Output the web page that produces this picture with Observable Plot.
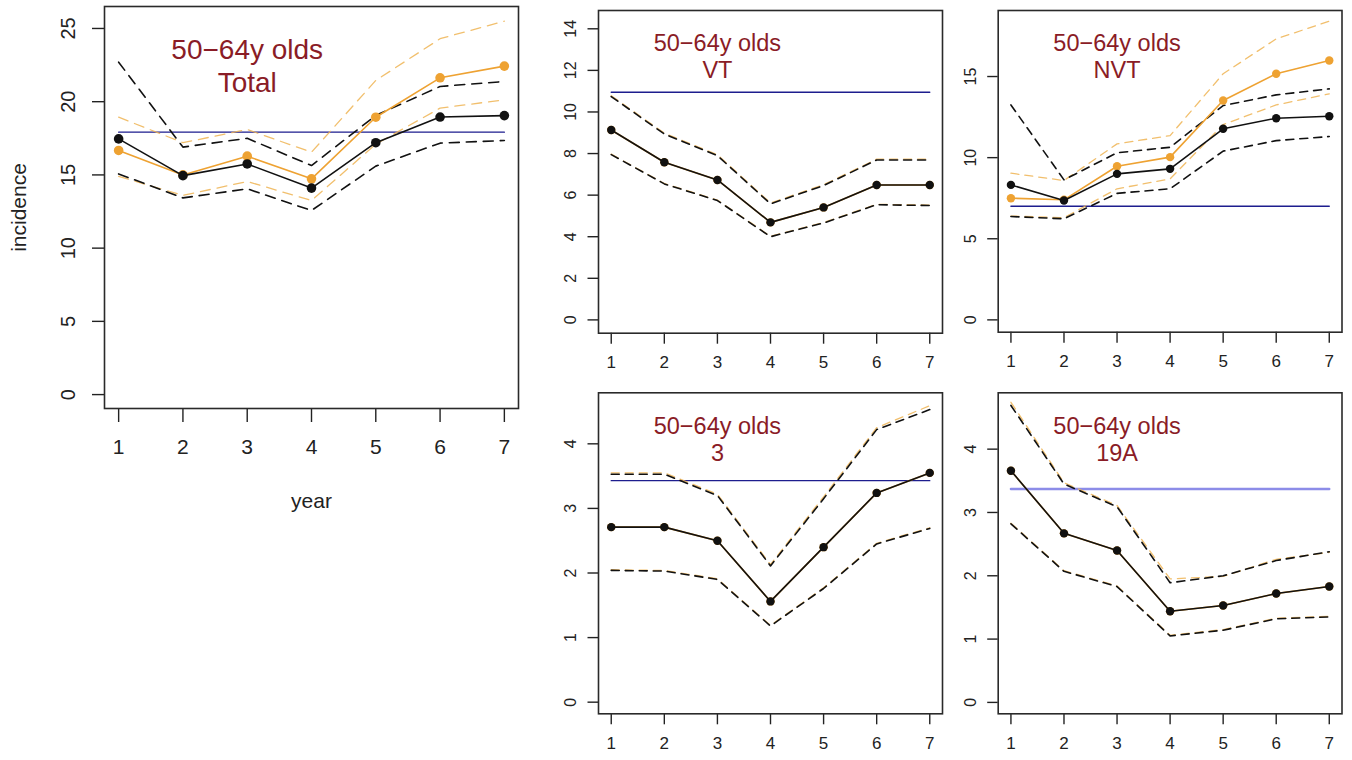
<!DOCTYPE html>
<html><head><meta charset="utf-8">
<script src="https://cdn.jsdelivr.net/npm/d3@7"></script>
<script src="https://cdn.jsdelivr.net/npm/@observablehq/plot@0.6"></script>
<style>
html,body{margin:0;padding:0;background:#fff;}
#wrap{position:relative;width:1352px;height:760px;overflow:hidden;font-family:"Liberation Sans",Arial,sans-serif;}
.panel{position:absolute;}
</style></head><body><div id="wrap"></div>
<script>
// ---------- data ----------
const years = [1, 2, 3, 4, 5, 6, 7];
const panelNames = ["Total", "VT", "NVT", "3", "19A"];
const titlePrefix = "50\u221264y olds";

const blackMid = {
  Total: [17.46, 14.95, 15.75, 14.1, 17.2, 18.95, 19.05],
  VT:    [9.13, 7.58, 6.73, 4.69, 5.41, 6.49, 6.49],
  NVT:   [8.32, 7.36, 9.0, 9.31, 11.78, 12.43, 12.55],
  "3":   [2.71, 2.71, 2.50, 1.56, 2.40, 3.24, 3.55],
  "19A": [3.66, 2.67, 2.40, 1.44, 1.53, 1.72, 1.83]
};
const blackLo = {
  Total: [15.07, 13.43, 14.05, 12.57, 15.6, 17.17, 17.35],
  VT:    [7.95, 6.54, 5.74, 4.0, 4.66, 5.54, 5.5],
  NVT:   [6.37, 6.23, 7.8, 8.08, 10.4, 11.05, 11.3],
  "3":   [2.04, 2.03, 1.9, 1.18, 1.76, 2.45, 2.69],
  "19A": [2.82, 2.07, 1.83, 1.05, 1.14, 1.32, 1.35]
};
const blackHi = {
  Total: [22.7, 16.9, 17.5, 15.64, 19.06, 21.04, 21.38],
  VT:    [10.74, 8.94, 7.9, 5.58, 6.46, 7.69, 7.69],
  NVT:   [13.25, 8.63, 10.3, 10.64, 13.21, 13.87, 14.24],
  "3":   [3.53, 3.53, 3.2, 2.11, 3.15, 4.22, 4.53],
  "19A": [4.69, 3.45, 3.09, 1.89, 2.0, 2.24, 2.38]
};
const orangeMid = {
  Total: [16.67, 15.0, 16.28, 14.73, 18.94, 21.63, 22.43],
  VT:    [9.13, 7.58, 6.73, 4.69, 5.41, 6.49, 6.49],
  NVT:   [7.5, 7.4, 9.47, 10.03, 13.52, 15.17, 15.99],
  "3":   [2.71, 2.71, 2.50, 1.56, 2.40, 3.24, 3.55],
  "19A": [3.66, 2.67, 2.40, 1.44, 1.53, 1.72, 1.83]
};
const orangeLo = {
  Total: [14.9, 13.6, 14.55, 13.25, 17.1, 19.56, 20.13],
  VT:    [7.97, 6.56, 5.76, 4.02, 4.68, 5.56, 5.52],
  NVT:   [6.4, 6.3, 8.08, 8.69, 12.04, 13.25, 13.93],
  "3":   [2.05, 2.04, 1.91, 1.19, 1.77, 2.46, 2.7],
  "19A": [2.83, 2.08, 1.84, 1.06, 1.15, 1.33, 1.36]
};
const orangeHi = {
  Total: [18.94, 17.2, 18.1, 16.55, 21.45, 24.3, 25.5],
  VT:    [10.78, 8.98, 7.94, 5.62, 6.5, 7.73, 7.73],
  NVT:   [9.04, 8.59, 10.85, 11.36, 15.17, 17.32, 18.41],
  "3":   [3.55, 3.55, 3.22, 2.13, 3.18, 4.25, 4.59],
  "19A": [4.74, 3.47, 3.11, 1.95, 1.99, 2.26, 2.37]
};
const baseline = { Total: 17.92, VT: 10.95, NVT: 7.0, "3": 3.43, "19A": 3.37 };
const yTicks = {
  Total: [0, 5, 10, 15, 20, 25],
  VT: [0, 2, 4, 6, 8, 10, 12, 14],
  NVT: [0, 5, 10, 15],
  "3": [0, 1, 2, 3, 4],
  "19A": [0, 1, 2, 3, 4]
};
const xLabel = "year";
const yLabel = "incidence";

// ---------- layout / style ----------
const layout = {
  Total: {left: 0, top: 0, width: 540, height: 525, mt: 6, mr: 22, mb: 117, ml: 104, xd: [0.78, 7.22], yd: [-0.95, 26.5], big: true},
  VT:    {left: 545, top: 0, width: 400, height: 378, mt: 10, mr: 3, mb: 45.3, ml: 53, xd: [0.76, 7.24], yd: [-0.64, 14.88]},
  NVT:   {left: 945, top: 0, width: 407, height: 378, mt: 10, mr: 10.5, mb: 46.3, ml: 52.7, xd: [0.76, 7.24], yd: [-0.76, 19.07]},
  "3":   {left: 545, top: 378, width: 400, height: 382, mt: 14.3, mr: 3, mb: 46.7, ml: 53, xd: [0.76, 7.24], yd: [-0.18, 4.79]},
  "19A": {left: 945, top: 378, width: 407, height: 382, mt: 14.3, mr: 10.5, mb: 46.7, ml: 52.7, xd: [0.76, 7.24], yd: [-0.18, 4.89], lightBlue: true}
};
const FONT = "Liberation Sans, Arial, sans-serif";
const ORANGE = "#eea232";
const ORANGE_DASH = "#efb453";
const BLACK = "#111";
const TITLE = "#8a1c26";

const rows = arr => years.map((yr, i) => ({year: yr, v: arr[i]}));

function makePanel(name) {
  const L = layout[name];
  const big = !!L.big;
  const s = big ? 1.2 : 1;
  const dash = big ? "10,7" : "8,6";
  const r = big ? 4.8 : 4.2;
  const blueRows = [{year: years[0], v: baseline[name]}, {year: years[years.length - 1], v: baseline[name]}];
  const marks = [
    Plot.line(blueRows, {x: "year", y: "v", stroke: L.lightBlue ? "#8c8ce8" : "#1d1d8e", strokeWidth: L.lightBlue ? 2.4 : 1.4}),
    Plot.line(rows(orangeHi[name]), {x: "year", y: "v", stroke: ORANGE_DASH, strokeWidth: 1.3, strokeDasharray: dash, strokeOpacity: 0.85}),
    Plot.line(rows(orangeLo[name]), {x: "year", y: "v", stroke: ORANGE_DASH, strokeWidth: 1.3, strokeDasharray: dash, strokeOpacity: 0.85}),
    Plot.line(rows(blackHi[name]), {x: "year", y: "v", stroke: BLACK, strokeWidth: 1.6, strokeDasharray: dash}),
    Plot.line(rows(blackLo[name]), {x: "year", y: "v", stroke: BLACK, strokeWidth: 1.6, strokeDasharray: dash}),
    Plot.line(rows(orangeMid[name]), {x: "year", y: "v", stroke: ORANGE, strokeWidth: 1.6}),
    Plot.dot(rows(orangeMid[name]), {x: "year", y: "v", fill: ORANGE, r}),
    Plot.line(rows(blackMid[name]), {x: "year", y: "v", stroke: BLACK, strokeWidth: 1.6}),
    Plot.dot(rows(blackMid[name]), {x: "year", y: "v", fill: BLACK, r}),
    Plot.axisX({ticks: years, tickFormat: d => String(d), tickSize: big ? 14 : 11, tickPadding: big ? 17 : 12,
      fontSize: big ? 21 : 17, label: null, stroke: "#222", strokeWidth: 1.4}),
    Plot.axisY({ticks: yTicks[name], tickFormat: d => String(d), tickSize: big ? 12 : 10.5, tickPadding: big ? 18 : 12,
      tickRotate: -90, fontSize: big ? 20 : 16, label: null, stroke: "#222", strokeWidth: 1.4}),
    Plot.text([titlePrefix + "\n" + name], {x: 3, frameAnchor: "top", dy: big ? 29 : (L.top > 0 ? 22.7 : 21.6),
      text: d => d, fill: TITLE, fontSize: big ? 28 : 23.5, lineAnchor: "top", textAnchor: "middle",
      lineHeight: big ? 1.17 : 1.13, fontFamily: FONT}),
    Plot.frame({stroke: "#2a2a2a", strokeWidth: 1.6})
  ];
  if (big) {
    marks.push(Plot.text([xLabel], {frameAnchor: "bottom", dy: 99, text: d => d, fontSize: 21, lineAnchor: "bottom", fill: "#222", fontFamily: FONT}));
    marks.push(Plot.text([yLabel], {frameAnchor: "left", dx: -79, rotate: -90, text: d => d, fontSize: 21, lineAnchor: "bottom", textAnchor: "middle", fill: "#222", fontFamily: FONT}));
  }
  const p = Plot.plot({
    width: L.width, height: L.height,
    marginTop: L.mt, marginRight: L.mr, marginBottom: L.mb, marginLeft: L.ml,
    x: {domain: L.xd, axis: null},
    y: {domain: L.yd, axis: null},
    style: {background: "transparent", color: "#222", fontFamily: FONT, overflow: "visible"},
    marks
  });
  const div = document.createElement("div");
  div.className = "panel";
  div.style.left = L.left + "px";
  div.style.top = L.top + "px";
  div.appendChild(p);
  return div;
}

const wrap = document.getElementById("wrap");
for (const name of panelNames) wrap.appendChild(makePanel(name));
</script></body></html>
